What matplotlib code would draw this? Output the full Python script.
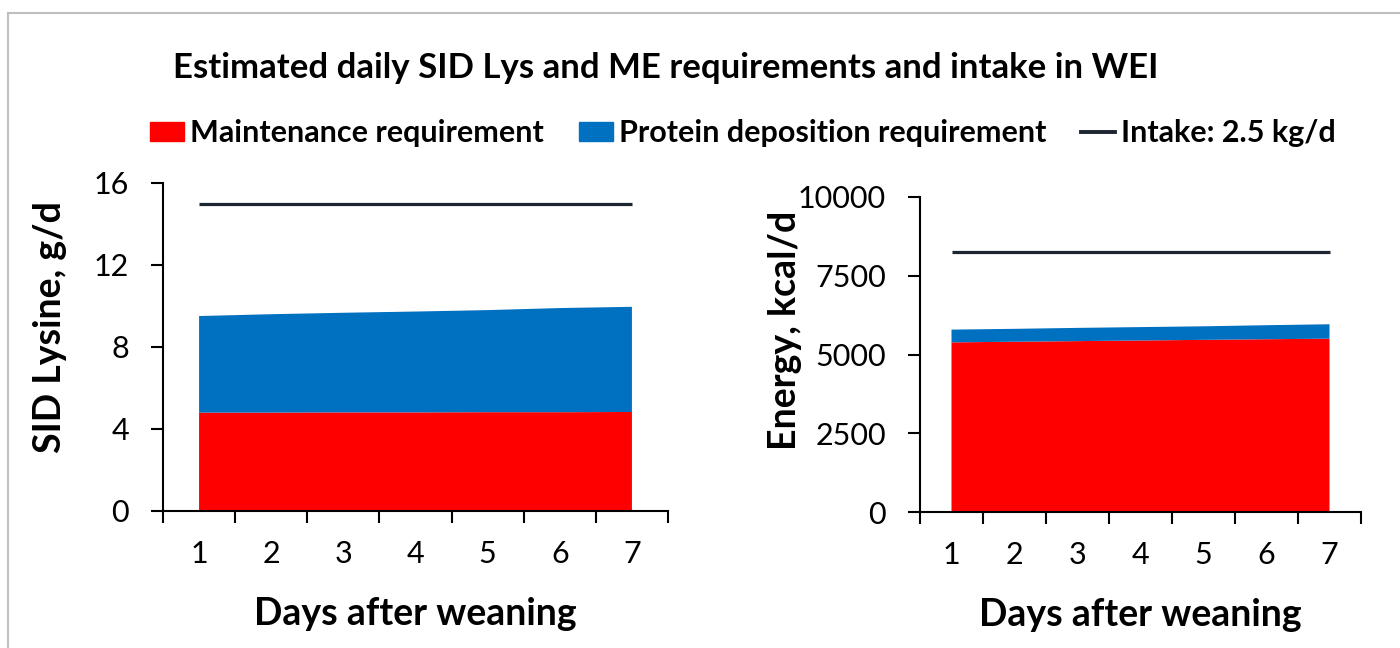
import numpy as np
import matplotlib.pyplot as plt
from matplotlib.patches import Patch
from matplotlib.lines import Line2D

plt.rcParams['font.family'] = ['Lato', 'DejaVu Sans']

days = [1, 2, 3, 4, 5, 6, 7]
day_labels = ['1', '2', '3', '4', '5', '6', '7']

# SID lysine, g/d
lys_maint = [4.80, 4.80, 4.81, 4.81, 4.82, 4.82, 4.83]
lys_total = [9.51, 9.60, 9.67, 9.73, 9.80, 9.90, 9.96]
lys_intake = [15.0, 15.0, 15.0, 15.0, 15.0, 15.0, 15.0]

# ME, kcal/d
me_maint = [5385, 5405, 5425, 5445, 5465, 5485, 5502]
me_total = [5790, 5815, 5845, 5870, 5895, 5930, 5960]
me_intake = [8250, 8250, 8250, 8250, 8250, 8250, 8250]

lys_prot = list(np.array(lys_total) - np.array(lys_maint))
me_prot = list(np.array(me_total) - np.array(me_maint))

RED = '#FF0000'
BLUE = '#0070C0'
LINE = '#1c2530'

W, H = 1400, 648
fig = plt.figure(figsize=(14, 6.48), dpi=100)


def axbox(x0, y0, x1, y1):
    # pixel box (top-left origin) -> figure fraction
    return [x0 / W, 1 - y1 / H, (x1 - x0) / W, (y1 - y0) / H]


def setupAxis(ax, ylim, yticks, ylabel, label_xy):
    ax.set_xlim(0.5, 7.5)
    ax.set_ylim(*ylim)
    ax.set_yticks(yticks)
    ax.set_yticklabels([str(t) for t in yticks], fontsize=22)
    ax.set_xticks(days)
    ax.set_xticklabels(day_labels, fontsize=22)
    ax.tick_params(axis='x', which='major', length=0, pad=21)
    ax.set_xticks(np.arange(0.5, 8.0, 1.0), minor=True)
    ax.tick_params(axis='x', which='minor', length=8.5, width=1.5, direction='out')
    ax.tick_params(axis='y', length=8.5, width=1.5, direction='out', pad=16)
    for s in ['top', 'right']:
        ax.spines[s].set_visible(False)
    for s in ['left', 'bottom']:
        ax.spines[s].set_linewidth(1.5)
    ax.set_xlabel('Days after weaning', fontsize=27, fontweight='bold', labelpad=21)
    ax.set_ylabel(ylabel, fontsize=27, fontweight='bold')
    ax.yaxis.set_label_coords(*label_xy)
    ax.yaxis.label.set_va('center')


ax1 = fig.add_axes(axbox(163, 183, 668, 511))
ax1.stackplot(days, lys_maint, lys_prot, colors=[RED, BLUE], linewidth=0)
ax1.plot(days, lys_intake, color=LINE, lw=2.3, solid_capstyle='butt')
setupAxis(ax1, (0, 16), [0, 4, 8, 12, 16], 'SID Lysine, g/d', (-0.224, 0.56))

ax2 = fig.add_axes(axbox(920, 197, 1361, 512))
ax2.stackplot(days, me_maint, me_prot, colors=[RED, BLUE], linewidth=0)
ax2.plot(days, me_intake, color=LINE, lw=2.3, solid_capstyle='butt')
setupAxis(ax2, (0, 10000), [0, 2500, 5000, 7500, 10000], 'Energy, kcal/d', (-0.306, 0.575))

fig.text(666 / W, 1 - 68 / H, 'Estimated daily SID Lys and ME requirements and intake in WEI',
         ha='center', va='center', fontsize=25, fontweight='bold')

handles = [Patch(color=RED), Patch(color=BLUE), Line2D([0], [0], color=LINE, lw=2.8)]
labels = ['Maintenance requirement', 'Protein deposition requirement', 'Intake: 2.5 kg/d']
fig.legend(handles, labels, loc='center', bbox_to_anchor=(743 / W, 1 - 133 / H), ncol=3,
           frameon=False, prop={'size': 22, 'weight': 'bold'}, handlelength=1.1,
           handleheight=0.6, handletextpad=0.2, columnspacing=1.15)

# chart border (only top and left edges fall inside the crop)
fig.add_artist(Line2D([8 / W, 8 / W], [0, 1 - 13 / H], color='#bfbfbf', lw=1.5,
                      transform=fig.transFigure))
fig.add_artist(Line2D([8 / W, 1], [1 - 13 / H, 1 - 13 / H], color='#bfbfbf', lw=1.5,
                      transform=fig.transFigure))

fig.savefig('out.png', dpi=100)
